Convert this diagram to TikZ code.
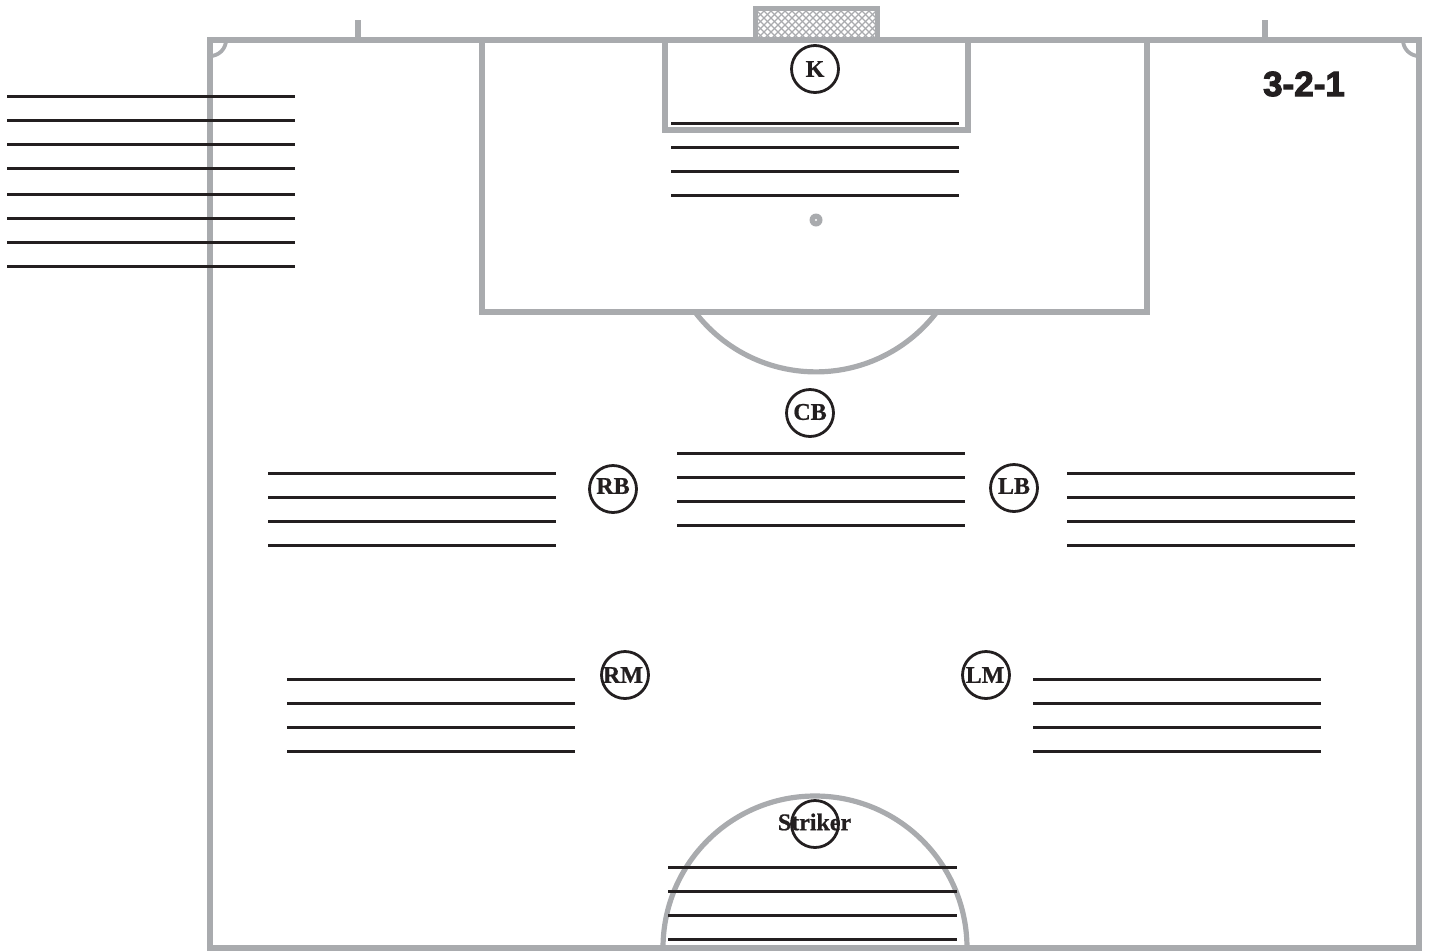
\documentclass[tikz,border=0pt]{standalone}
\usepackage{fontspec}
\setmainfont{Liberation Serif}
\newfontfamily\headfont[FakeBold=3]{Liberation Sans Bold}
\newfontfamily\labelfont[FakeBold=0.8]{Liberation Serif Bold}
\definecolor{pitch}{HTML}{A9ABAE}
\definecolor{ink}{HTML}{231F20}
\definecolor{mesh}{HTML}{A9ABAE}
\tikzset{
  pitchline/.style={draw=pitch,line width=5.2pt},
  writeline/.style={draw=ink,line width=3pt},
  player/.style={circle,draw=ink,line width=2.8pt,minimum size=47pt,inner sep=0pt,fill=none},
  playerlabel/.style={inner sep=0pt,font=\labelfont\fontsize{24}{24}\selectfont,text=ink},
}
\newcommand{\writelines}[3]{\foreach \yy in {#3}{\draw[writeline] (#1,\yy) -- (#2,\yy);}}
\begin{document}
\begin{tikzpicture}[x=1pt,y=-1pt]
\useasboundingbox (0,0) rectangle (1430,951);
% goal
\begin{scope}
  \clip (757,10) rectangle (876,38);
  \foreach \i in {0,7,...,168}{
    \draw[mesh,line width=1.1pt] (730+\i,5) -- (770+\i,45);
    \draw[mesh,line width=1.1pt] (730+\i,45) -- (770+\i,5);
  }
\end{scope}
\draw[pitchline] (755.5,38) -- (755.5,8.5) -- (877.5,8.5) -- (877.5,38);
% pitch
\draw[pitchline] (210,40) rectangle (1419,948);
\draw[pitchline] (358,20) -- (358,40);
\draw[pitchline] (1265,20) -- (1265,40);
\draw[pitch,line width=3.8pt] (226,40) arc[start angle=0,end angle=90,radius=16];
\draw[pitch,line width=3.8pt] (1403,40) arc[start angle=180,end angle=90,radius=16];
\draw[pitchline] (482,40) -- (482,312) -- (1147,312) -- (1147,40);
\draw[pitchline] (665,40) -- (665,130) -- (968,130) -- (968,40);
\draw[pitchline] (695,312) arc[start angle=142.7,end angle=37.3,radius=152];
\draw[pitchline] (663,948) arc[start angle=180,end angle=360,radius=152];
\fill[pitch] (816,220) circle[radius=6.5];
\fill[white] (816,220) circle[radius=1.2];
% write-in lines
\writelines{7}{295}{96,120,144,168,194,218,242,266}
\writelines{671}{959}{123,147,171,195}
\writelines{677}{965}{453,477,501,525}
\writelines{268}{556}{473,497,521,545}
\writelines{1067}{1355}{473,497,521,545}
\writelines{287}{575}{679,703,727,751}
\writelines{1033}{1321}{679,703,727,751}
\writelines{668}{957}{867,891,915,939}
% players
\node[player] (k) at (815,69) {};
\node[playerlabel] (kl) at (815,69) {K};
\node[player] (cb) at (810,413) {};
\node[playerlabel] (cbl) at (810,412) {CB};
\node[player] (rb) at (613,489) {};
\node[playerlabel] (rbl) at (613,486) {RB};
\node[player] (lb) at (1014,488) {};
\node[playerlabel] (lbl) at (1014,486) {LB};
\node[player] (rm) at (625,675) {};
\node[playerlabel] (rml) at (623,675) {RM};
\node[player] (lm) at (986,675) {};
\node[playerlabel] (lml) at (985,675) {LM};
\node[player] (st) at (815,824) {};
\node[playerlabel] (stl) at (814.5,822) {Striker};
\node[inner sep=0pt,text=ink,font=\headfont\fontsize{35}{35}\selectfont] (title) at (1304,84) {3-2-1};
\end{tikzpicture}
\end{document}
